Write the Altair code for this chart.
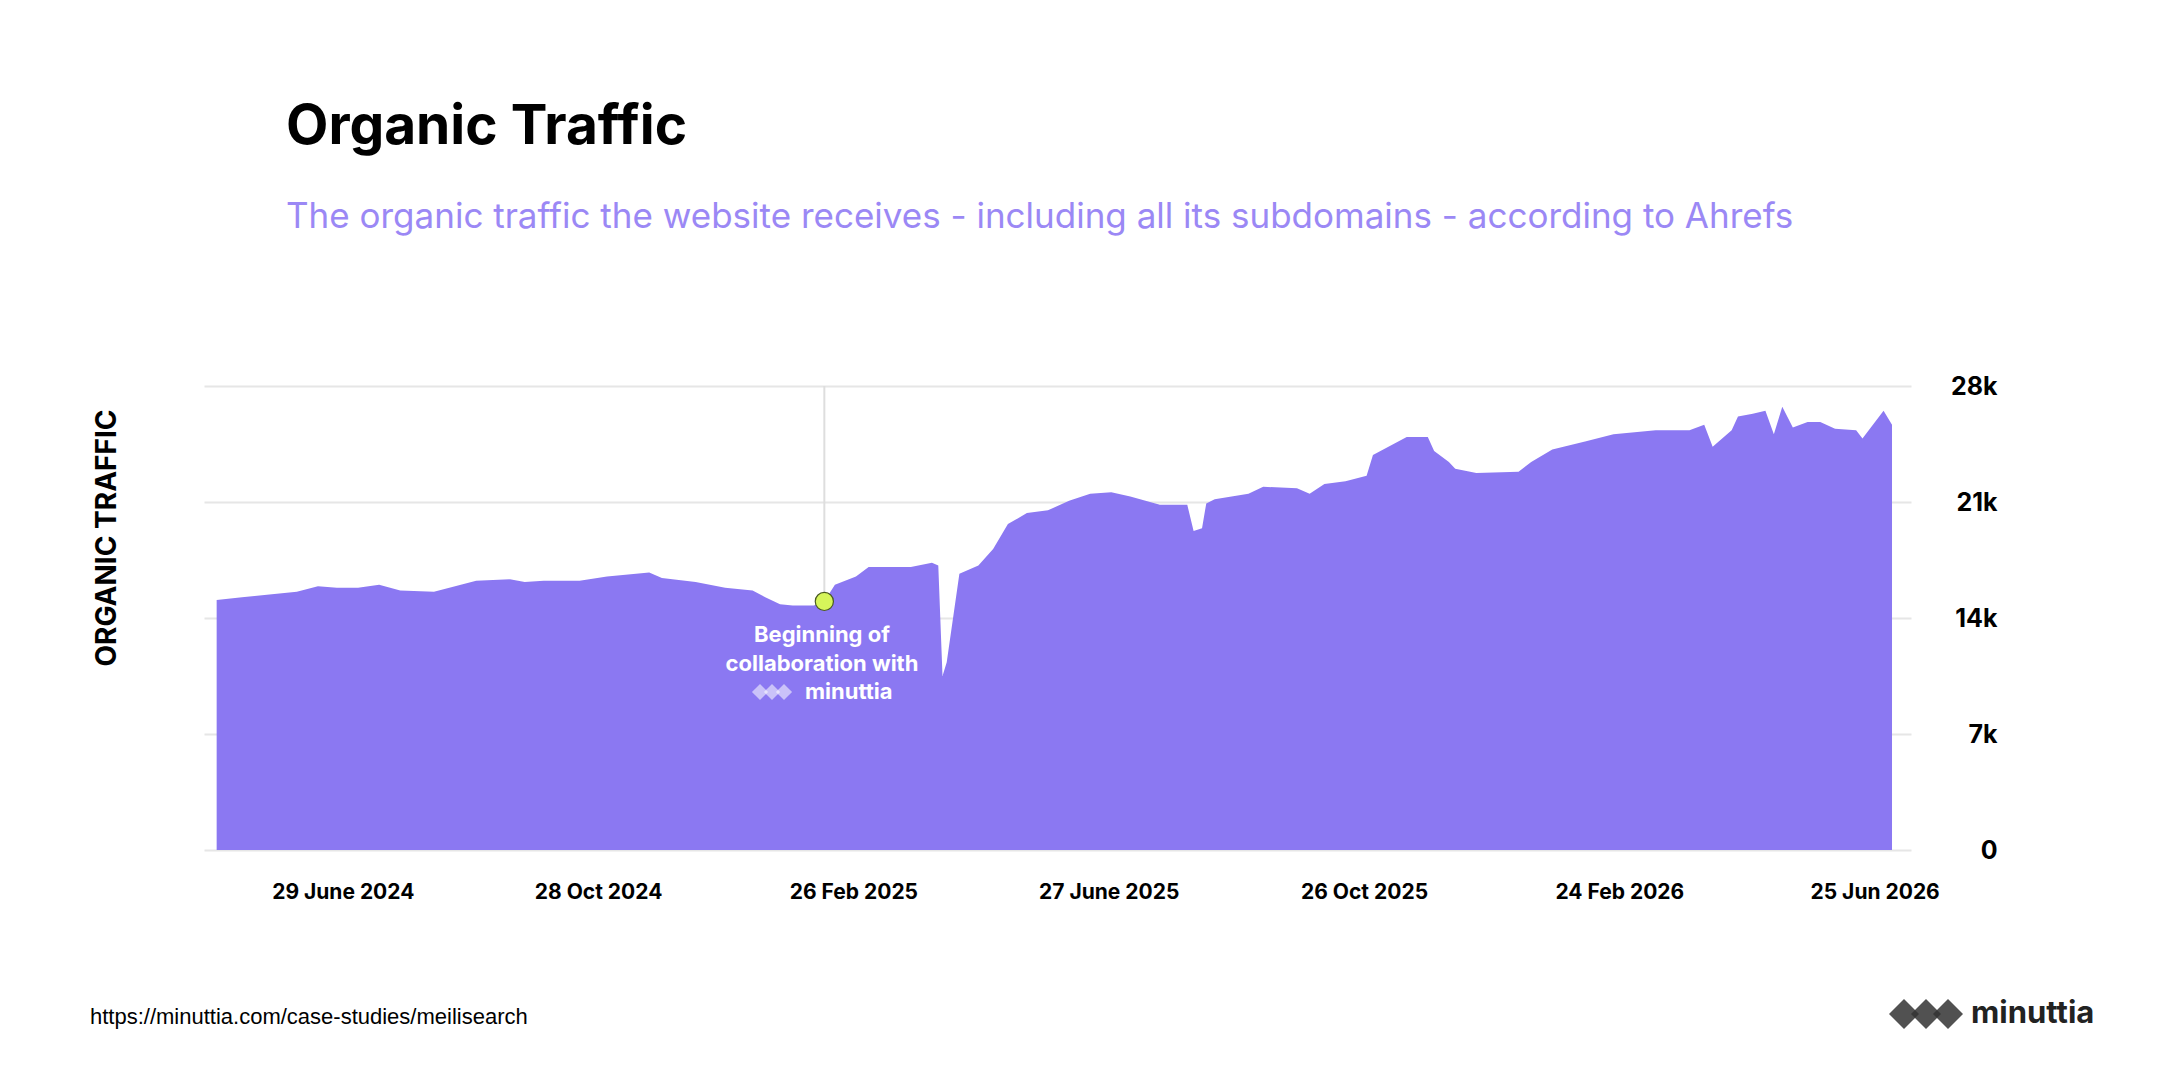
import pandas as pd
import altair as alt

# traffic series (days after 29 June 2024, visits)
day_offset = [-60, -48, -42, -35, -22, -12, -3, 7, 17, 27, 43, 53, 63, 79, 86, 95, 112, 125, 145, 151,
              167, 181, 194, 200, 207, 213, 223, 228, 233, 243, 249, 269, 279, 282, 284, 286, 292, 301,
              308, 315, 324, 334, 344, 354, 364, 373, 387, 400, 403, 407, 409, 413, 429, 436, 452, 458,
              465, 475, 485, 488, 494, 504, 514, 517, 524, 527, 537, 557, 563, 573, 589, 602, 622, 638,
              645, 649, 658, 661, 668, 674, 678, 682, 687, 694, 700, 707, 717, 720, 730, 734]
traffic = [15083, 15250, 15333, 15417, 15583, 15917, 15833, 15833, 16000, 15667, 15583, 15917, 16250,
           16333, 16167, 16250, 16250, 16500, 16750, 16417, 16167, 15833, 15667, 15250, 14833, 14750,
           14750, 15000, 16000, 16500, 17083, 17083, 17333, 17167, 10500, 11333, 16667, 17167, 18167,
           19667, 20333, 20500, 21083, 21500, 21583, 21333, 20833, 20833, 19250, 19417, 20917, 21167,
           21500, 21917, 21833, 21500, 22083, 22250, 22583, 23833, 24250, 24917, 24917, 24083, 23417,
           23000, 22750, 22833, 23417, 24167, 24667, 25083, 25333, 25333, 25667, 24333, 25333, 26167,
           26333, 26500, 25083, 26750, 25500, 25833, 25833, 25417, 25333, 24833, 26500, 25667]

tick_dates = ["2024-06-29", "2024-10-28", "2025-02-26", "2025-06-27", "2025-10-26", "2026-02-24", "2026-06-25"]
tick_labels = ["29 June 2024", "28 Oct 2024", "26 Feb 2025", "27 June 2025", "26 Oct 2025", "24 Feb 2026", "25 Jun 2026"]
y_ticks = [0, 7000, 14000, 21000, 28000]

base_day = pd.Timestamp("2024-06-29")
df = pd.DataFrame({"date": base_day + pd.to_timedelta(day_offset, unit="D"), "traffic": traffic})
collab = pd.DataFrame({"date": [base_day + pd.Timedelta(days=228)], "top": [28000], "traffic": [15000]})
ticks = pd.DataFrame({"date": pd.to_datetime(tick_dates), "label": tick_labels})

W, H = 1707, 464
PURPLE = "#8b78f2"
FONT = "Inter"

xscale = alt.Scale(domain=[(base_day - pd.Timedelta(days=66)).isoformat(),
                           (base_day + pd.Timedelta(days=743)).isoformat()])
yscale = alt.Scale(domain=[0, 28000], nice=False)

area = alt.Chart(df).mark_area(color=PURPLE, opacity=1).encode(
    x=alt.X("date:T", scale=xscale, axis=alt.Axis(labels=False, ticks=False, domain=False, grid=False, title=None)),
    y=alt.Y("traffic:Q", scale=yscale, axis=alt.Axis(
        orient="right", values=y_ticks, title=None, domain=False, ticks=False,
        gridColor="#e6e6e6", gridWidth=2, labelFont=FONT, labelFontSize=25, labelFontWeight="bold",
        labelColor="#000", labelAlign="right", labelPadding=86,
        labelExpr="datum.value == 0 ? '0' : datum.value / 1000 + 'k'")),
)

xlabels = alt.Chart(ticks).mark_text(font=FONT, fontSize=21, fontWeight="bold", color="#000").encode(
    x=alt.X("date:T", scale=xscale), y=alt.value(H + 43), text="label:N")

vline = alt.Chart(collab).mark_rule(color="#dedede", strokeWidth=2).encode(
    x=alt.X("date:T", scale=xscale), y=alt.Y("top:Q", scale=yscale), y2="traffic:Q")
dot = alt.Chart(collab).mark_point(filled=True, color="#d6f55a", stroke="#4a5a20", strokeWidth=1.2, size=330, opacity=1).encode(
    x=alt.X("date:T", scale=xscale), y=alt.Y("traffic:Q", scale=yscale))


def txt(s, x, y, size, color="#000", weight="normal", align="left", font=FONT, angle=0):
    return alt.Chart(pd.DataFrame({"t": [s]})).mark_text(
        font=font, fontSize=size, fontWeight=weight, color=color, align=align, baseline="middle", angle=angle
    ).encode(x=alt.value(x), y=alt.value(y), text="t:N")


def logo(xs, y, size, color, op):
    layers = [alt.Chart(pd.DataFrame({"x": [x]})).mark_point(
        shape="diamond", filled=True, size=size, color=color, opacity=op
    ).encode(x=alt.value(x), y=alt.value(y)) for x in xs]
    return alt.layer(*layers)


texts = (
    txt("Organic Traffic", 82, -259, 55, weight="bold")
    + txt("The organic traffic the website receives  - including all its subdomains - according to Ahrefs", 82, -169, 35, color="#9b88f5")
    + txt("ORGANIC TRAFFIC", -96, 152, 28, weight="bold", align="center", angle=270)
    + txt("Beginning of", 618, 249, 22, color="#fff", weight="bold", align="center")
    + txt("collaboration with", 618, 278, 22, color="#fff", weight="bold", align="center")
    + txt("minuttia", 601, 306, 22, color="#fff", weight="bold")
    + txt("https://minuttia.com/case-studies/meilisearch", -114, 631, 22, font="Liberation Sans")
    + txt("minuttia", 1767, 628, 31, weight="bold", color="#222")
    + logo([556, 568, 580], 306, 260, "#ffffff", 0.55)
    + logo([1700, 1722, 1744], 628, 900, "#333333", 0.85)
)

chart = (area + vline + dot + xlabels + texts).properties(
    width=W, height=H,
    autosize=alt.AutoSizeParams(type="none"),
    padding={"left": 196, "top": 378, "right": 244, "bottom": 210},
    background="#ffffff",
).configure_view(strokeWidth=0)

chart.save("out.html", embed_options={"renderer": "svg", "actions": False})
